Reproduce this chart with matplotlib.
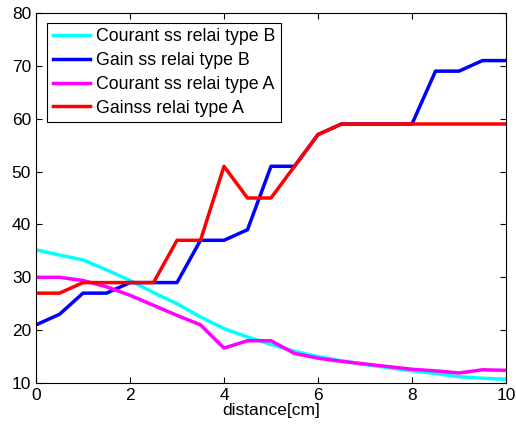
import numpy as np
import matplotlib
matplotlib.use("Agg")
import matplotlib.pyplot as plt

plt.rcParams['font.family'] = ['Liberation Sans', 'DejaVu Sans']

distance = [0, 0.5, 1, 1.5, 2, 2.5, 3, 3.5, 4, 4.5, 5, 5.5, 6, 6.5, 7, 7.5, 8, 8.5, 9, 9.5, 10]
courant_b = [35.2, 34.2, 33.3, 31.4, 29.4, 27.1, 25.0, 22.5, 20.3, 18.7, 17.3, 16.0, 15.0, 14.2, 13.5, 12.9, 12.3, 11.8, 11.2, 10.9, 10.7]
gain_b = [21, 23, 27, 27, 29, 29, 29, 37, 37, 39, 51, 51, 57, 59, 59, 59, 59, 69, 69, 71, 71]
courant_a = [30, 30, 29.4, 28.2, 26.6, 24.7, 22.8, 21.0, 16.6, 18.0, 18.0, 15.6, 14.7, 14.1, 13.6, 13.1, 12.6, 12.3, 11.9, 12.5, 12.4]
gain_a = [27, 27, 29, 29, 29, 29, 37, 37, 51, 45, 45, 51, 57, 59, 59, 59, 59, 59, 59, 59, 59]

fig = plt.figure(figsize=(5.16, 4.29), dpi=100)
ax = fig.add_axes([0.0698, 0.1072, 0.9108, 0.8625])

lw = 2.5
ax.plot(distance, courant_b, color='cyan', linewidth=lw, label='Courant ss relai type B')
ax.plot(distance, gain_b, color='blue', linewidth=lw, label='Gain ss relai type B')
ax.plot(distance, courant_a, color='magenta', linewidth=lw, label='Courant ss relai type A')
ax.plot(distance, gain_a, color='red', linewidth=lw, label='Gainss relai type A')

ax.set_xlim(0, 10)
ax.set_ylim(10, 80)
ax.set_xticks(np.arange(0, 11, 2))
ax.set_yticks(np.arange(10, 81, 10))
ax.tick_params(direction='in', top=True, right=True, labelsize=12.5, length=4)
ax.set_xlabel('distance[cm]', fontsize=12.5, labelpad=0)

leg = ax.legend(loc='upper left', fontsize=12.8, fancybox=False, framealpha=1,
                edgecolor='black', handlelength=2.1, borderpad=0.3,
                labelspacing=0.38, handletextpad=0.35, borderaxespad=0,
                bbox_to_anchor=(0.024, 0.973))
leg.get_frame().set_linewidth(0.8)

fig.savefig('out.png', dpi=100)
